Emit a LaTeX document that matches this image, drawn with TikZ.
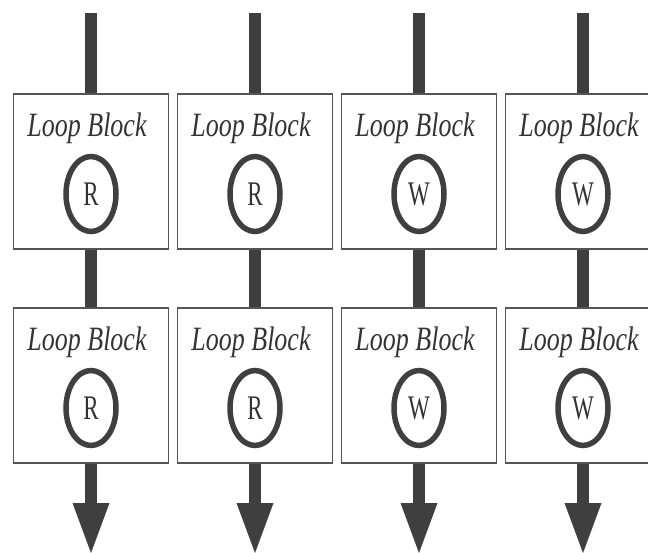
\documentclass[tikz,border=0pt]{standalone}
\usepackage{fontspec}
\setmainfont{Liberation Serif}
\usepackage{graphicx}
\usepackage{xcolor}
\definecolor{flowgray}{HTML}{3F3F3F}
\definecolor{boxgray}{HTML}{555555}
\definecolor{textgray}{HTML}{333333}
\usetikzlibrary{shapes.geometric}
\usetikzlibrary{arrows.meta}
\tikzset{
	loopbox/.style={draw=boxgray, line width=1.6pt, minimum width=155pt, minimum height=155pt, inner sep=0pt},
	looptitle/.style={anchor=base, inner sep=0pt, text=textgray},
	rwring/.style={ellipse, draw=flowgray, line width=5.5pt, minimum width=50pt, minimum height=75pt, inner sep=0pt, text=textgray},
	flowline/.style={draw=flowgray, line width=12.5pt},
	flowarrow/.style={flowline, -{Triangle[length=50pt, width=37pt, line width=0pt]}}
}
\newcommand{\blocktitle}{\scalebox{1}[1.31]{\fontsize{26}{26}\selectfont\itshape Loop Block}}
\newcommand{\accessmark}[1]{\scalebox{1}[1.5]{\fontsize{23}{23}\selectfont #1}}

\begin{document}
\begin{tikzpicture}[x=1pt, y=-1pt]
	\clip (0,0) rectangle (648,553);
	
	% first column
	\coordinate (in1) at (91,13);
	\node[loopbox] (top1) at (91,171.5) {};
	\node[looptitle] (ttl1) at (87,137) {\blocktitle};
	\node[rwring] (ring1) at (91,194) {\accessmark{R}};
	\node[loopbox] (bot1) at (91,385.5) {};
	\node[looptitle] (btl1) at (87,351) {\blocktitle};
	\node[rwring] (bring1) at (91,408) {\accessmark{R}};
	\coordinate (out1) at (91,553);
	
	% second column
	\coordinate (in2) at (255,13);
	\node[loopbox] (top2) at (255,171.5) {};
	\node[looptitle] (ttl2) at (251,137) {\blocktitle};
	\node[rwring] (ring2) at (255,194) {\accessmark{R}};
	\node[loopbox] (bot2) at (255,385.5) {};
	\node[looptitle] (btl2) at (251,351) {\blocktitle};
	\node[rwring] (bring2) at (255,408) {\accessmark{R}};
	\coordinate (out2) at (255,553);
	
	% third column
	\coordinate (in3) at (419,13);
	\node[loopbox] (top3) at (419,171.5) {};
	\node[looptitle] (ttl3) at (415,137) {\blocktitle};
	\node[rwring] (ring3) at (419,194) {\accessmark{W}};
	\node[loopbox] (bot3) at (419,385.5) {};
	\node[looptitle] (btl3) at (415,351) {\blocktitle};
	\node[rwring] (bring3) at (419,408) {\accessmark{W}};
	\coordinate (out3) at (419,553);
	
	% fourth column
	\coordinate (in4) at (583,13);
	\node[loopbox] (top4) at (583,171.5) {};
	\node[looptitle] (ttl4) at (579,137) {\blocktitle};
	\node[rwring] (ring4) at (583,194) {\accessmark{W}};
	\node[loopbox] (bot4) at (583,385.5) {};
	\node[looptitle] (btl4) at (579,351) {\blocktitle};
	\node[rwring] (bring4) at (583,408) {\accessmark{W}};
	\coordinate (out4) at (583,553);
	
	% flow
	\draw[flowline] (in1) -- (top1) (top1) -- (bot1);
	\draw[flowarrow] (bot1) -- (out1);
	\draw[flowline] (in2) -- (top2) (top2) -- (bot2);
	\draw[flowarrow] (bot2) -- (out2);
	\draw[flowline] (in3) -- (top3) (top3) -- (bot3);
	\draw[flowarrow] (bot3) -- (out3);
	\draw[flowline] (in4) -- (top4) (top4) -- (bot4);
	\draw[flowarrow] (bot4) -- (out4);
\end{tikzpicture}
\end{document}
